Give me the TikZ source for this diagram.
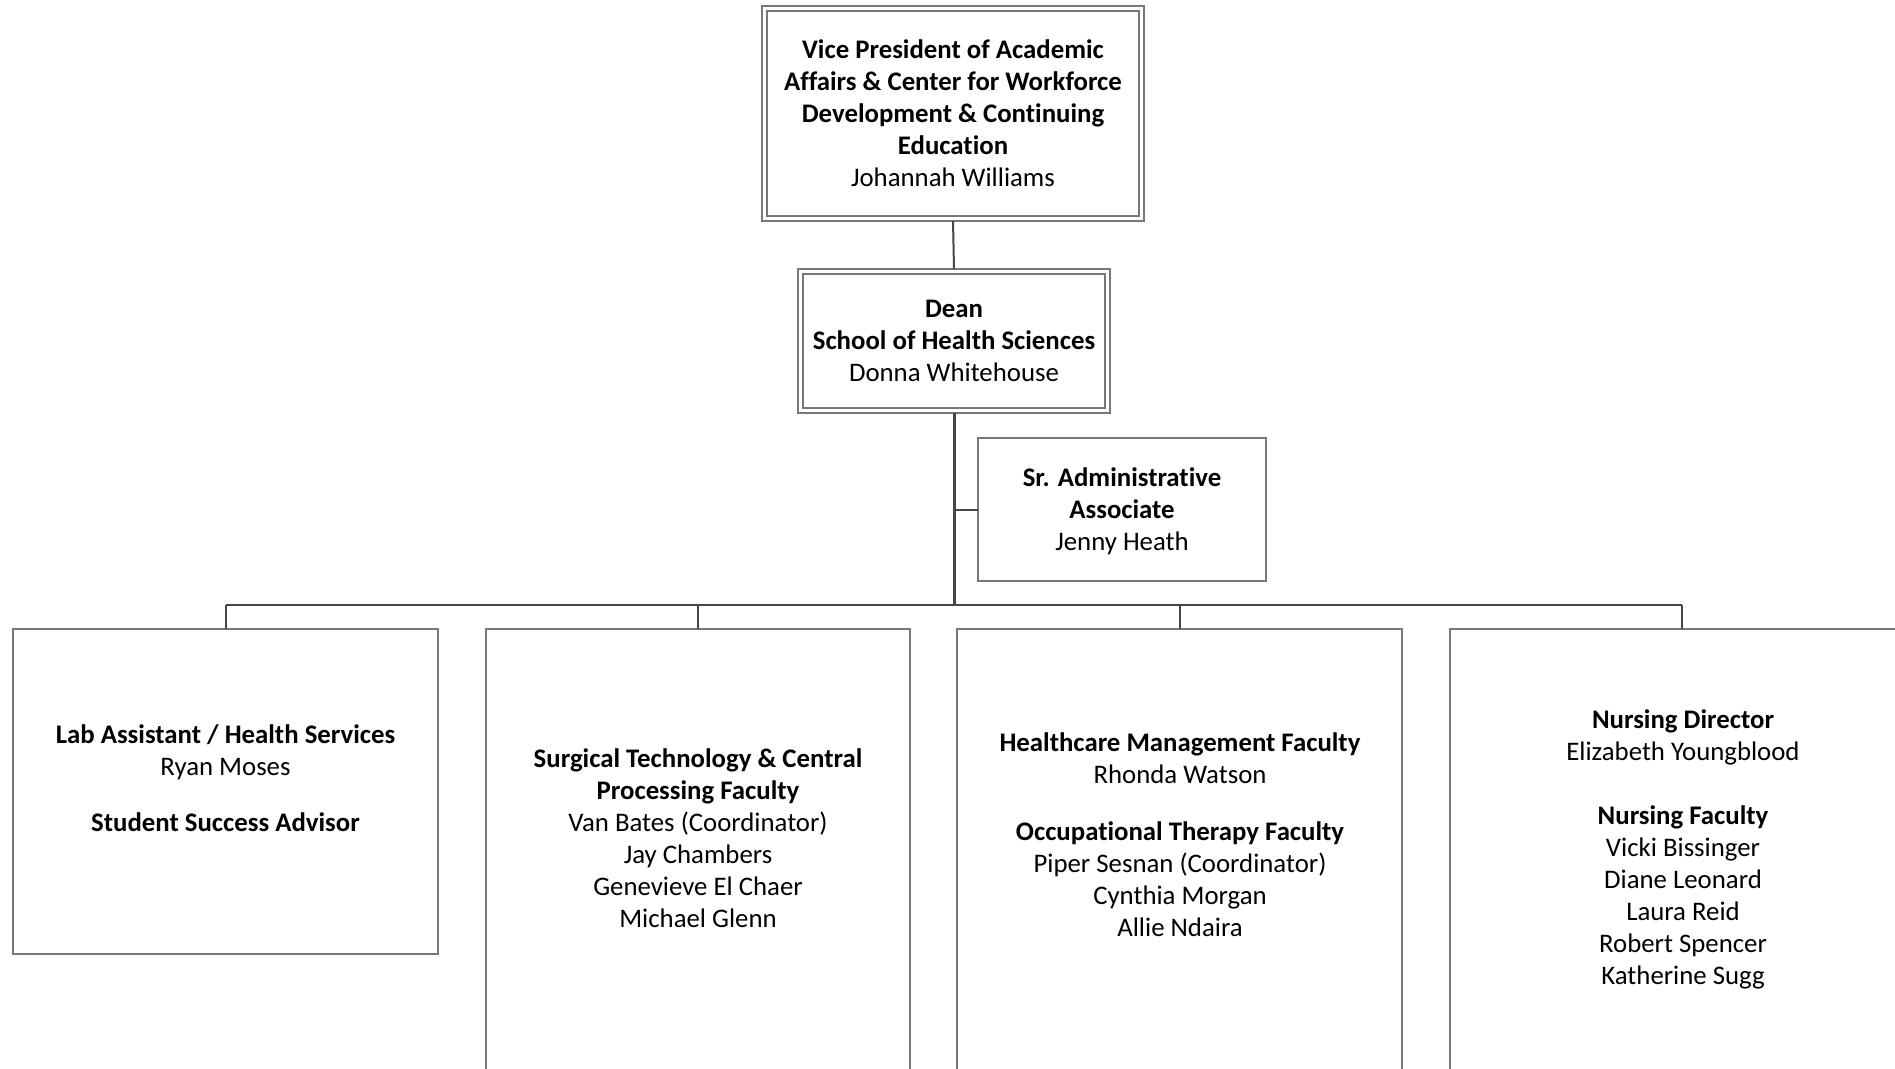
\documentclass[tikz,border=0pt]{standalone}
\usepackage{fontspec}
\setmainfont[Ligatures=NoCommon]{Carlito}
\definecolor{boxgray}{RGB}{120,120,120}
\definecolor{linegray}{RGB}{70,70,70}
\begin{document}
\begin{tikzpicture}[x=0.5pt,y=-0.5pt,
  boxst/.style={draw=boxgray, line width=0.6pt, rectangle, inner sep=0pt, outer sep=0pt, anchor=north west},
  conn/.style={draw=linegray, line width=1pt},
  trunk/.style={draw=linegray, line width=1.5pt},
  txt/.style={align=center, font=\fontsize{13.4pt}{16pt}\selectfont, inner sep=0pt, anchor=north}]
\useasboundingbox (0,0) rectangle (1895,1069);
\clip (0,0) rectangle (1895,1069);
\fill[white] (0,0) rectangle (1895,1069);
% boxes
\node[boxst, minimum width=191pt, minimum height=107.5pt] (vpo) at (762,6) {};
\node[boxst, minimum width=186pt, minimum height=102.5pt] (vpi) at (767,11) {};
\node[boxst, minimum width=156pt, minimum height=72pt] (deano) at (798,269) {};
\node[boxst, minimum width=151pt, minimum height=67pt] (deani) at (803,274) {};
\node[boxst, minimum width=144pt, minimum height=71.5pt] (admin) at (978,438) {};
\node[boxst, minimum width=212.5pt, minimum height=162.5pt] (b1) at (13,629) {};
\node[boxst, minimum width=212pt, minimum height=240pt] (b2) at (486,629) {};
\node[boxst, minimum width=222.5pt, minimum height=240pt] (b3) at (957,629) {};
\node[boxst, minimum width=232pt, minimum height=240pt] (b4) at (1450,629) {};
% texts
\node[txt] (tvp) at (953,39.5) {\textbf{Vice President of Academic}\\\textbf{Affairs \& Center for Workforce}\\\textbf{Development \& Continuing}\\\textbf{Education}\\Johannah Williams};
\node[txt] (tdean) at (954,299.5) {\textbf{Dean}\\\textbf{School of Health Sciences}\\Donna Whitehouse};
\node[txt] (tadmin) at (1122,467.5) {\textbf{Sr. Administrative}\\\textbf{Associate}\\Jenny Heath};
\node[txt] (tb1) at (225.5,724.5) {\textbf{Lab Assistant / Health Services}\\Ryan Moses\\[12pt]\textbf{Student Success Advisor}};
\node[txt] (tb2) at (698,748.5) {\textbf{Surgical Technology \& Central}\\\textbf{Processing Faculty}\\Van Bates (Coordinator)\\Jay Chambers\\Genevieve El Chaer\\Michael Glenn};
\node[txt] (tb3) at (1180,732.5) {\textbf{Healthcare Management Faculty}\\Rhonda Watson\\[12.5pt]\textbf{Occupational Therapy Faculty}\\Piper Sesnan (Coordinator)\\Cynthia Morgan\\Allie Ndaira};
\node[txt] (tb4) at (1683,709.5) {\textbf{Nursing Director}\\Elizabeth Youngblood\\[16pt]\textbf{Nursing Faculty}\\Vicki Bissinger\\Diane Leonard\\Laura Reid\\Robert Spencer\\Katherine Sugg};
% connectors
\coordinate (bus) at (954,605);
\draw[conn] (vpo.south) -- (deano.north);
\draw[trunk] (deano.south) -- (deano.south |- bus);
\draw[conn] (admin.west -| deano.south) -- (admin.west);
\draw[conn] (b1.north |- bus) -- (b4.north |- bus);
\draw[conn] (b1.north |- bus) -- (b1.north);
\draw[conn] (b2.north |- bus) -- (b2.north);
\draw[conn] (b3.north |- bus) -- (b3.north);
\draw[conn] (b4.north |- bus) -- (b4.north);
\end{tikzpicture}
\end{document}
